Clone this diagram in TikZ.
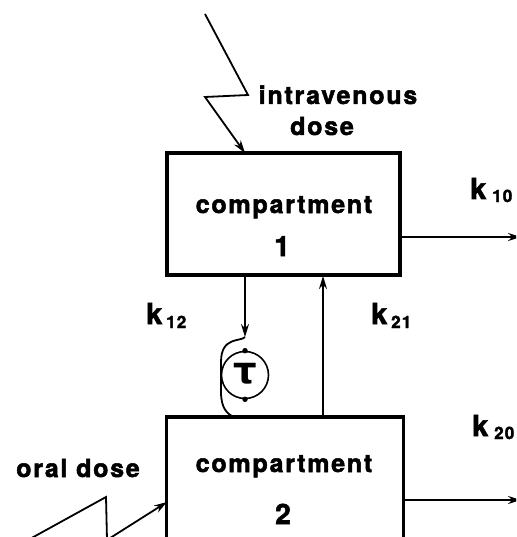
\documentclass[tikz,border=0pt]{standalone}
\usepackage{fontspec}
\setmainfont{TeX Gyre Heros}[FakeBold=1.2]
\newfontfamily\lab{TeX Gyre Heros}[LetterSpace=7, FakeBold=2]
\newfontfamily\grk{DejaVu Sans}
\usetikzlibrary{arrows.meta}
\begin{document}
\begin{tikzpicture}[x=1pt,y=-1pt,
  box/.style={draw, line width=3.6pt, inner sep=0pt, outer sep=0pt},
  lbl/.style={font=\lab\bfseries\fontsize{25}{25}\selectfont, inner sep=0pt, anchor=base},
  num/.style={font=\lab\bfseries\fontsize{28}{28}\selectfont, inner sep=0pt, anchor=base},
  kk/.style={font=\lab\bfseries\fontsize{29}{29}\selectfont, inner sep=0pt, anchor=base west},
  ksub/.style={font=\lab\bfseries\fontsize{17}{17}\selectfont, inner sep=0pt, anchor=base west},
  conn/.style={line width=1.8pt},
  arr/.style={line width=1.8pt, -{Stealth[length=13pt,width=8pt]}},
  dot/.style={circle, fill, inner sep=0pt, minimum size=5.5pt}]
\useasboundingbox (0,0) rectangle (516,537);
\clip (0,0) rectangle (516,537);
% boxes
\node[box, minimum width=233pt, minimum height=122pt] (c1) at (283.5,214) {};
\node[box, minimum width=237pt, minimum height=182pt] (c2) at (285,508) {};
\node[lbl] (t1) at (284,213) {compartment};
\node[num] (n1) at (282,256) {1};
\node[lbl] (t2) at (284,472) {compartment};
\node[num] (n2) at (283,524) {2};
% intravenous dose
\coordinate (iv0) at (205,14);
\coordinate (iv1) at (248,95);
\coordinate (iv2) at (205,97);
\coordinate (ivt) at (245,153);
\draw[arr] (iv0) -- (iv1) -- (iv2) -- (ivt);
\node[lbl] (ivl) at (338,104) {intravenous};
\node[lbl] (ivd) at (322,135) {dose};
% oral dose
\coordinate (or0) at (28,540);
\coordinate (or1) at (106,497);
\coordinate (or2) at (107,540);
\coordinate (ort) at (167,502);
\draw[arr] (or0) -- (or1) -- (or2) -- (ort);
\node[lbl] (orl) at (78,477) {oral dose};
% elimination
\coordinate (k10s) at (401,237);
\coordinate (k10e) at (521,237);
\draw[arr] (k10s) -- (k10e);
\node[kk] (k10a) at (470,199) {k};
\node[ksub] (k10b) at (492,202) {10};
\coordinate (k20s) at (404,500);
\coordinate (k20e) at (521,500);
\draw[arr] (k20s) -- (k20e);
\node[kk] (k20a) at (472,436) {k};
\node[ksub] (k20b) at (494,439) {20};
% k12 with delay
\coordinate (k12s) at (245,275);
\coordinate (k12e) at (245,337);
\draw[arr] (k12s) -- (k12e);
\node[kk] (k12a) at (146,324) {k};
\node[ksub] (k12b) at (166,328) {12};
\node[draw, circle, line width=1.6pt, minimum size=47pt, inner sep=0pt] (tau) at (245,375) {};
\node[font=\grk\bfseries\fontsize{37}{37}\selectfont, inner sep=0pt] (taul) at (245,374) {τ};
\node[dot] (dtop) at (tau.north) {};
\node[dot] (dbot) at (tau.south) {};
\coordinate (h2) at (234,417);
\draw[conn] (k12e) .. controls (241,342) and (221,336) .. (221,362) -- (221,392) .. controls (221,408) and (227,414) .. (h2);
% k21
\coordinate (k21s) at (323,417);
\coordinate (k21e) at (323,276);
\draw[arr] (k21s) -- (k21e);
\node[kk] (k21a) at (371,324) {k};
\node[ksub] (k21b) at (391,328) {21};
\end{tikzpicture}
\end{document}
